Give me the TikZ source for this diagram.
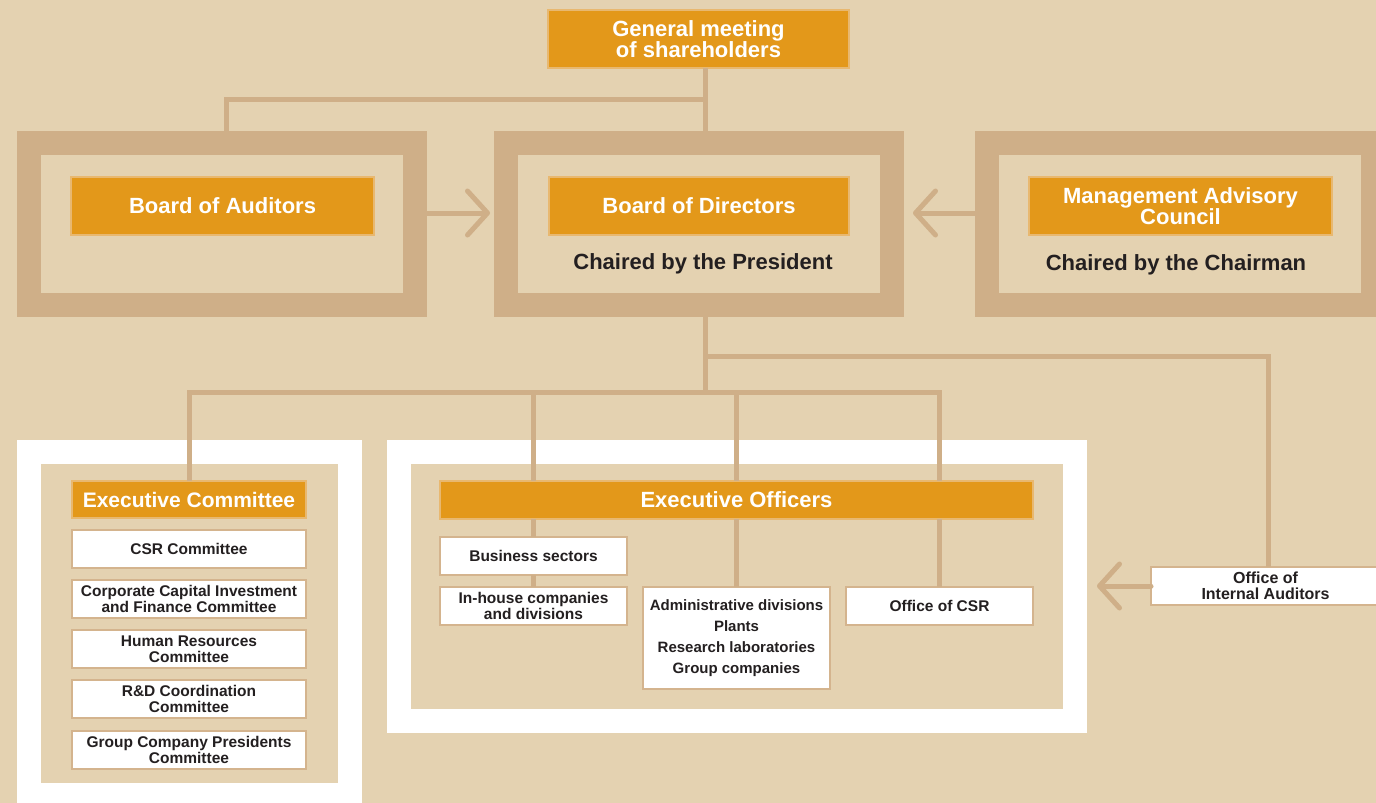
\documentclass[tikz,border=0pt]{standalone}
\usepackage{fontspec}
\setmainfont{Liberation Sans}
\usetikzlibrary{arrows.meta}
\definecolor{bg}{HTML}{E4D2B1}
\definecolor{tanc}{HTML}{CFAF88}
\definecolor{orng}{HTML}{E3981A}
\definecolor{oborder}{HTML}{E8B870}
\definecolor{wborder}{HTML}{D4B48E}
\definecolor{ink}{HTML}{231F20}
\begin{document}
\begin{tikzpicture}[x=1pt,y=-1pt,
  tanframe/.style={draw=tanc, line width=24, fill=bg, inner sep=0, outer sep=12},
  whiteframe/.style={draw=white, line width=24, fill=bg, inner sep=0, outer sep=12},
  obox/.style={fill=orng, draw=oborder, line width=1.5, inner sep=0, outer sep=0, text=white,
    font=\bfseries\fontsize{22}{21}\selectfont, align=center},
  wbox/.style={fill=white, draw=wborder, line width=1.5, inner sep=0, outer sep=0, text=ink,
    font=\bfseries\fontsize{15.5}{16}\selectfont, align=center},
  chair/.style={text=ink, font=\bfseries\fontsize{22}{22}\selectfont, inner sep=0},
  conn/.style={draw=tanc, line width=5, line join=miter},
  arr/.style={draw=tanc, line width=5, line cap=round, -{Straight Barb[length=20, width=44, round]}}
]
\useasboundingbox[fill=bg] (0,0) rectangle (1376,803);

% frames
\node[tanframe, minimum width=386, minimum height=162] (audF) at (222,224) {};
\node[tanframe, minimum width=386, minimum height=162] (bodF) at (699,224) {};
\node[tanframe, minimum width=386, minimum height=162] (macF) at (1180,224) {};
\node[whiteframe, minimum width=321, minimum height=343] (lpan) at (189.5,623.5) {};
\node[whiteframe, minimum width=676, minimum height=269] (rpan) at (737,586.5) {};

% top boxes
\node[obox, minimum width=301, minimum height=58] (gm) at (698.5,39) {General meeting\\of shareholders};
\node[obox, minimum width=303, minimum height=58] (aud) at (222.5,206) {Board of Auditors};
\node[obox, minimum width=300, minimum height=58] (bod) at (699,206) {Board of Directors};
\node[obox, minimum width=303, minimum height=58] (mac) at (1180.5,206) {Management Advisory\\Council};
\node[chair] (bodc) at (703,264) {Chaired by the President};
\node[chair] (macc) at (1176,265) {Chaired by the Chairman};

% executive committee
\node[obox, minimum width=234, minimum height=37, font=\bfseries\fontsize{21}{21}\selectfont] (ec) at (189,499.5) {Executive Committee};
\node[wbox, minimum width=234, minimum height=38] (c1) at (189,549) {CSR Committee};
\node[wbox, minimum width=234, minimum height=38] (c2) at (189,599) {Corporate Capital Investment\\and Finance Committee};
\node[wbox, minimum width=234, minimum height=38] (c3) at (189,649) {Human Resources\\Committee};
\node[wbox, minimum width=234, minimum height=38] (c4) at (189,699) {R\&D Coordination\\Committee};
\node[wbox, minimum width=234, minimum height=38] (c5) at (189,750) {Group Company Presidents\\Committee};

% executive officers
\node[obox, minimum width=593, minimum height=38] (eo) at (736.5,500) {Executive Officers};
\node[wbox, minimum width=187, minimum height=38] (bs) at (533.5,556) {Business sectors};
\node[wbox, minimum width=187, minimum height=38] (ih) at (533.5,606) {In-house companies\\and divisions};
\node[wbox, minimum width=187, minimum height=102, font=\bfseries\fontsize{15}{21}\selectfont] (ad) at (736.5,638) {Administrative divisions\\Plants\\Research laboratories\\Group companies};
\node[wbox, minimum width=187, minimum height=38] (ocsr) at (939.5,606) {Office of CSR};
\node[wbox, minimum width=229, minimum height=38, font=\bfseries\fontsize{16}{16}\selectfont] (oia) at (1265.5,586) {Office of\\Internal Auditors};

% junction coordinates
\coordinate (tr) at (705,99);
\coordinate (al) at (226,99);
\coordinate (lb) at (705,392);
\coordinate (ib) at (705,356);
\coordinate (ir) at (1268,356);
\coordinate (hl) at (189,392);
\coordinate (hr) at (939.5,392);

% connectors
\draw[conn] (gm.south -| tr) -- (bodF.north -| tr);
\draw[conn] (audF.north -| al) -- (al) -- (tr);
\draw[conn] (bodF.south -| lb) -- (lb);
\draw[conn] (ib) -- (ir) -- (oia.north -| ir);
\draw[conn] (ec.north) -- (hl) -- (hr) -- (eo.north -| hr);
\draw[conn] (bs.north |- hl) -- (eo.north -| bs.north);
\draw[conn] (ad.north |- hl) -- (eo.north -| ad.north);
\draw[conn] (eo.south -| bs.north) -- (bs.north);
\draw[conn] (bs.south) -- (ih.north);
\draw[conn] (eo.south -| ad.north) -- (ad.north);
\draw[conn] (eo.south -| ocsr.north) -- (ocsr.north);

% arrows
\coordinate (ay) at (0,213);
\draw[arr, shorten >=4] (audF.east |- ay) -- (bodF.west |- ay);
\draw[arr, shorten >=9] (macF.west |- ay) -- (bodF.east |- ay);
\draw[arr, shorten >=10] (oia.west) -- (rpan.east |- oia.west);
\end{tikzpicture}
\end{document}
